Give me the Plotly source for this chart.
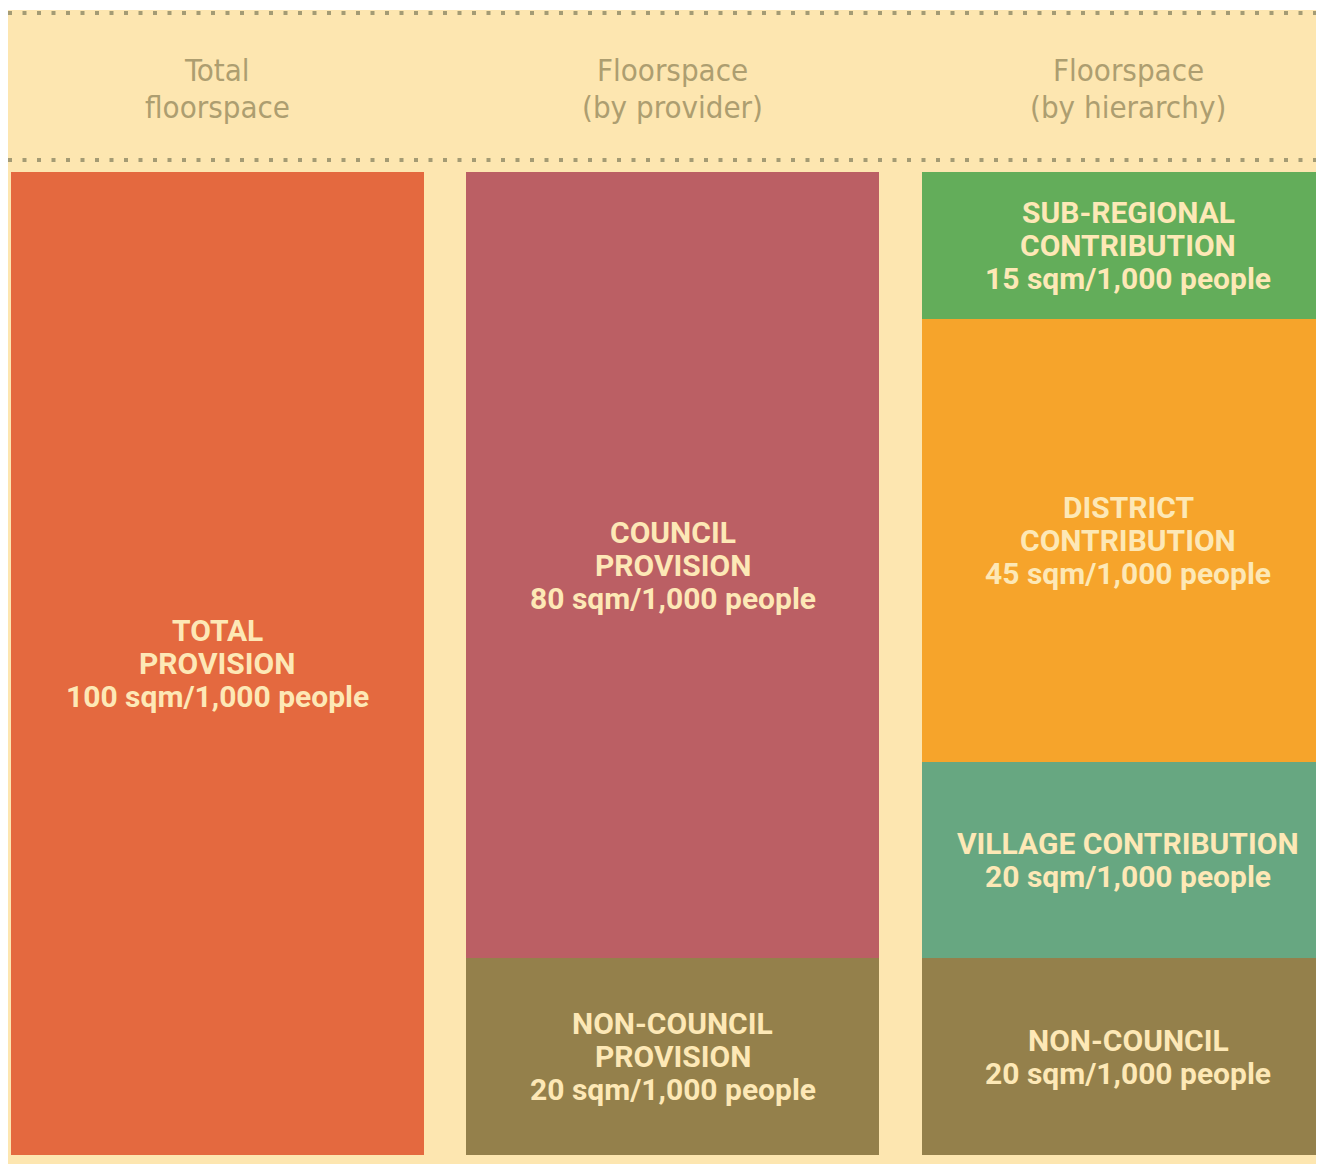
import plotly.graph_objects as go

# ---------------- data ----------------
column_titles = [["Total", "floorspace"],
                 ["Floorspace", "(by provider)"],
                 ["Floorspace", "(by hierarchy)"]]

total_labels = [["TOTAL", "PROVISION"]]
total_values = [100]

provider_labels = [["NON-COUNCIL", "PROVISION"], ["COUNCIL", "PROVISION"]]
provider_values = [20, 80]

hierarchy_labels = [["NON-COUNCIL"], ["VILLAGE CONTRIBUTION"],
                    ["DISTRICT", "CONTRIBUTION"], ["SUB-REGIONAL", "CONTRIBUTION"]]
hierarchy_values = [20, 20, 45, 15]

unit = "sqm/1,000 people"

# ---------------- styles ----------------
total_colors = ["#e4693f"]
provider_colors = ["#94804b", "#bb5f64"]
hierarchy_colors = ["#94804b", "#67a781", "#f6a42b", "#63ad5a"]

CREAM = "#fde6b0"
HEAD_COLOR = "#ad9e70"
LABEL_COLOR = "#fde8b6"
DOT_COLOR = "#a49b74"
LABEL_FONT = "Roboto, Liberation Sans, Arial, sans-serif"
HEAD_FONT = "Liberation Sans Narrow, DejaVu Sans Condensed, Arial Narrow, sans-serif"

# page has an 8px body margin; figure coordinates = page coordinates - 8
W, H = 1316, 1156
ML, MT = 0, 2
px_per_col = 455.5
px_per_unit = 9.83
x0_px = 209      # centre of first column (figure pixels)
y0_px = 1147     # zero baseline (figure pixels)
bar_w_px = 413
line_h = 33

fig = go.Figure()

groups = [(total_labels, total_values, total_colors),
          (provider_labels, provider_values, provider_colors),
          (hierarchy_labels, hierarchy_values, hierarchy_colors)]

annotations = []
for col, (labels, values, colors) in enumerate(groups):
    base = 0
    for lab, val, colr in zip(labels, values, colors):
        fig.add_trace(go.Bar(
            x=[col], y=[val], width=bar_w_px / px_per_col,
            marker=dict(color=colr, line=dict(width=0)),
            hoverinfo="skip", showlegend=False))
        lines = lab + [f"{val} {unit}"]
        mid = base + val / 2
        n = len(lines)
        for i, t in enumerate(lines):
            annotations.append(dict(
                x=col, y=mid, xref="x", yref="y", text=f"<b>{t}</b>",
                showarrow=False, xanchor="center", yanchor="middle",
                yshift=-(i - (n - 1) / 2) * line_h,
                font=dict(family=LABEL_FONT, size=30, color=LABEL_COLOR)))
        base += val

plot_h = H - MT
head_px = [62, 99]
for col, title in enumerate(column_titles):
    for i, t in enumerate(title):
        annotations.append(dict(
            x=col, y=1 - (head_px[i] - MT) / plot_h, xref="x", yref="paper",
            text=t, showarrow=False, xanchor="center", yanchor="middle",
            font=dict(family=HEAD_FONT, size=31, color=HEAD_COLOR)))

shapes = []
for ypx in [5, 152]:
    yp = 1 - (ypx - MT) / plot_h
    shapes.append(dict(type="line", xref="paper", yref="paper",
                       x0=0, x1=1, y0=yp, y1=yp,
                       line=dict(color=DOT_COLOR, width=4, dash="4px,10.5px")))

x_left = -(x0_px - ML) / px_per_col
x_right = (W - x0_px) / px_per_col
y_bottom = -(H - y0_px) / px_per_unit
y_top = (y0_px - MT) / px_per_unit

fig.update_layout(
    width=W, height=H, barmode="stack",
    margin=dict(l=ML, r=0, t=MT, b=0, pad=0),
    paper_bgcolor="white", plot_bgcolor=CREAM,
    xaxis=dict(range=[x_left, x_right], visible=False, fixedrange=True),
    yaxis=dict(range=[y_bottom, y_top], visible=False, fixedrange=True),
    annotations=annotations, shapes=shapes,
    showlegend=False, hovermode=False,
)

fig.write_html("out.html", config={"displayModeBar": False})
